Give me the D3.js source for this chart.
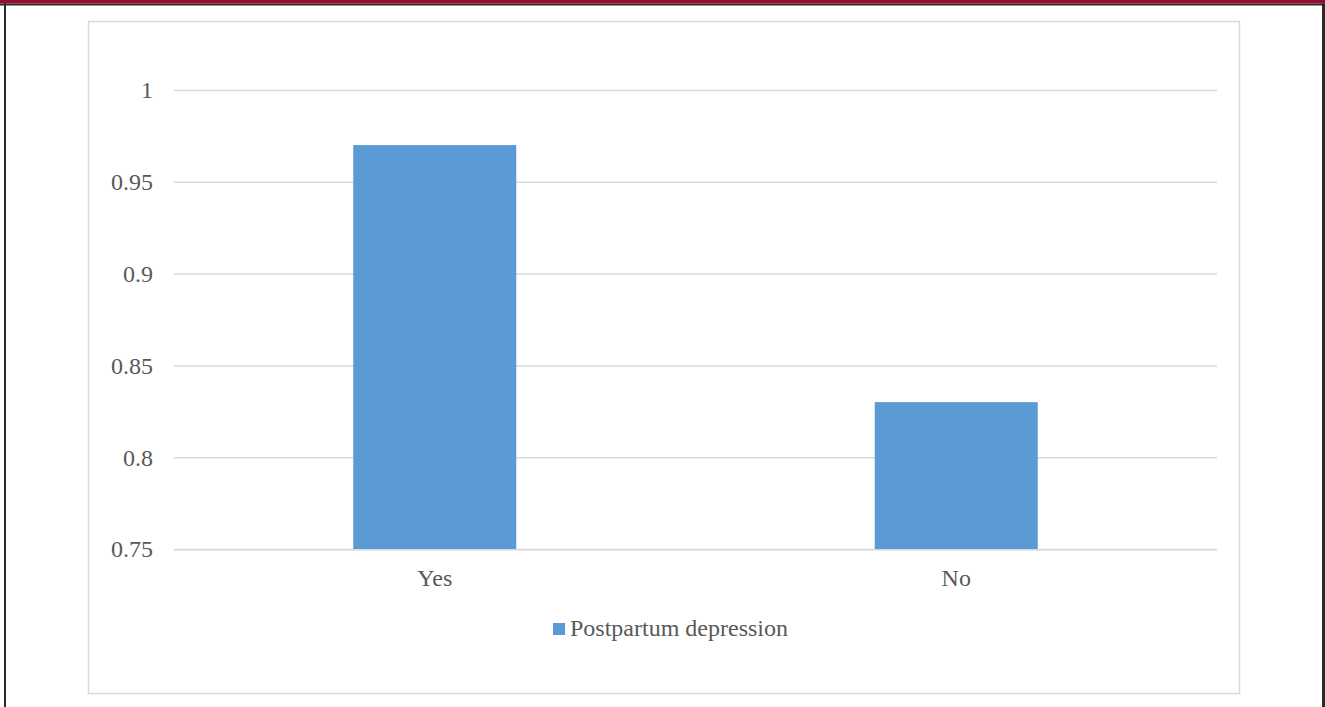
<!DOCTYPE html>
<html>
<head>
<meta charset="utf-8">
<script src="https://cdn.jsdelivr.net/npm/d3@7"></script>
<style>
  html, body { margin: 0; padding: 0; background: #fff; }
  svg { display: block; }
</style>
</head>
<body>
<svg id="chart" width="1325" height="707"></svg>
<script>
const categories = ["Yes", "No"];
const values = [0.97, 0.83];
const yTicks = [0.75, 0.8, 0.85, 0.9, 0.95, 1];
const yTickLabels = ["0.75", "0.8", "0.85", "0.9", "0.95", "1"];
const seriesName = "Postpartum depression";

const svg = d3.select("#chart");
const W = 1325, H = 707;
const font = "'Liberation Serif', 'Times New Roman', serif";
const textColor = "#595959";
const barColor = "#5b9bd5";

// page frame
svg.append("rect").attr("x", 0).attr("y", 0).attr("width", W).attr("height", 3.5).attr("fill", "#990a30");
svg.append("rect").attr("x", 0).attr("y", 3.5).attr("width", W).attr("height", 2).attr("fill", "#2a2a2a");
svg.append("rect").attr("x", 4).attr("y", 3.5).attr("width", 2).attr("height", H).attr("fill", "#2a2a2a");
svg.append("rect").attr("x", 1322).attr("y", 3.5).attr("width", 3).attr("height", H).attr("fill", "#2a2a2a");

// chart box
svg.append("rect").attr("x", 88.5).attr("y", 21.5).attr("width", 1151).attr("height", 672)
  .attr("fill", "none").attr("stroke", "#d9d9d9").attr("stroke-width", 1.5);

const plot = { left: 174, right: 1217, top: 90, bottom: 549 };

const y = d3.scaleLinear().domain([0.75, 1]).range([plot.bottom, plot.top]);
const x = d3.scaleBand().domain(categories).range([plot.left, plot.right])
  .paddingInner(0.6874).paddingOuter(0.3437);

// gridlines
const yAxis = d3.axisLeft(y).tickValues(yTicks).tickSize(-(plot.right - plot.left))
  .tickPadding(21).tickFormat((d, i) => yTickLabels[i]);
const gy = svg.append("g").attr("transform", `translate(${plot.left},0)`).call(yAxis);
gy.select(".domain").remove();
gy.selectAll(".tick line").attr("stroke", "#d9d9d9").attr("stroke-width", 1.5);
gy.selectAll(".tick text").attr("fill", textColor).style("font-family", font).style("font-size", "24px")
  .attr("dy", "0.33em");

// bars
svg.append("g").selectAll("rect").data(values).join("rect")
  .attr("x", (d, i) => x(categories[i]))
  .attr("y", d => y(d))
  .attr("width", x.bandwidth())
  .attr("height", d => y(0.75) - y(d))
  .attr("fill", barColor);

// baseline
svg.append("line").attr("x1", plot.left).attr("x2", plot.right)
  .attr("y1", plot.bottom + 0.75).attr("y2", plot.bottom + 0.75)
  .attr("stroke", "#d9d9d9").attr("stroke-width", 1.5);

// x axis labels
const xAxis = d3.axisBottom(x).tickSize(0).tickPadding(20);
const gx = svg.append("g").attr("transform", `translate(0,${plot.bottom})`).call(xAxis);
gx.select(".domain").remove();
gx.selectAll(".tick text").attr("fill", textColor).style("font-family", font).style("font-size", "24px");

// legend
const lg = svg.append("g").attr("transform", "translate(553,623)");
lg.append("rect").attr("width", 12).attr("height", 12).attr("fill", barColor);
lg.append("text").attr("x", 17).attr("y", 13).attr("fill", textColor)
  .style("font-family", font).style("font-size", "24px").text(seriesName);
</script>
</body>
</html>
